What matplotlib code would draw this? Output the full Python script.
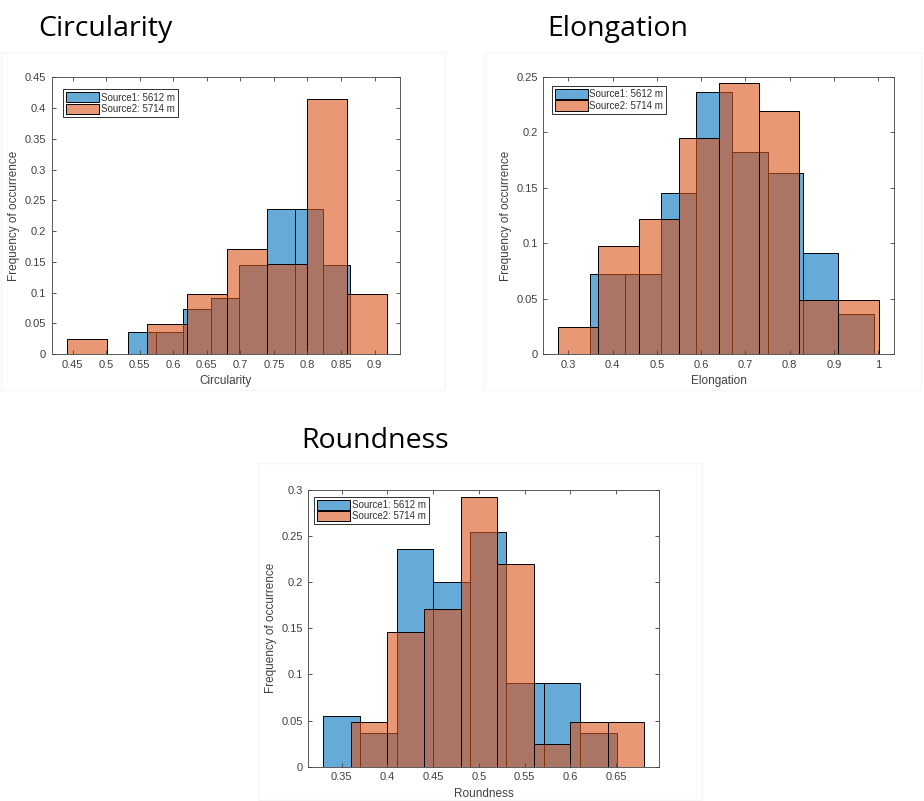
import numpy as np
import matplotlib
matplotlib.use('Agg')
import matplotlib.pyplot as plt
from matplotlib.colors import to_rgba
from matplotlib.ticker import FuncFormatter
from matplotlib.patches import Rectangle

BLUE = '#0072BD'
ORANGE = '#D95319'
LABELS = ['Source1: 5612 m', 'Source2: 5714 m']

# Circularity
circ_edges_1 = [0.532, 0.5735, 0.615, 0.6565, 0.698, 0.7395, 0.781, 0.8225, 0.864]
circ_freq_1 = [0.0364, 0.0364, 0.0727, 0.0909, 0.1455, 0.2364, 0.2364, 0.1455]
circ_edges_2 = [0.441, 0.501, 0.561, 0.620, 0.680, 0.740, 0.800, 0.859, 0.919]
circ_freq_2 = [0.0244, 0.0, 0.0488, 0.0976, 0.1707, 0.1463, 0.4146, 0.0976]

# Elongation
elon_edges_1 = [0.349, 0.429, 0.509, 0.589, 0.670, 0.750, 0.830, 0.910, 0.990]
elon_freq_1 = [0.0727, 0.0727, 0.1455, 0.2364, 0.1818, 0.1636, 0.0909, 0.0364]
elon_edges_2 = [0.277, 0.368, 0.459, 0.550, 0.641, 0.731, 0.820, 0.910, 1.001]
elon_freq_2 = [0.0244, 0.0976, 0.1220, 0.1951, 0.2439, 0.2195, 0.0488, 0.0488]

# Roundness
round_edges_1 = [0.330, 0.370, 0.410, 0.450, 0.490, 0.530, 0.571, 0.611, 0.651]
round_freq_1 = [0.0545, 0.0364, 0.2364, 0.2000, 0.2545, 0.0909, 0.0909, 0.0364]
round_edges_2 = [0.360, 0.400, 0.440, 0.480, 0.520, 0.560, 0.600, 0.641, 0.681]
round_freq_2 = [0.0488, 0.1463, 0.1707, 0.2927, 0.2195, 0.0244, 0.0488, 0.0488]

plt.rcParams['font.family'] = ['Liberation Sans', 'DejaVu Sans']

W, H = 924, 801
fig = plt.figure(figsize=(W / 100, H / 100), dpi=100)


def px_axes(left, top, right, bottom):
    return fig.add_axes([left / W, 1 - bottom / H, (right - left) / W, (bottom - top) / H])


def frame(left, top, right, bottom):
    fig.add_artist(Rectangle((left / W, 1 - bottom / H), (right - left) / W, (bottom - top) / H,
                             transform=fig.transFigure, fill=False,
                             edgecolor='#f6f6f6', linewidth=1.0))


def hist_panel(ax, e1, f1, e2, f2, xlim, ylim, xticks, yticks, xlabel, leg_off):
    e1 = np.array(e1)
    e2 = np.array(e2)
    ax.bar(e1[:-1], f1, width=np.diff(e1), align='edge',
           facecolor=to_rgba(BLUE, 0.6), edgecolor='black', linewidth=0.7,
           label=LABELS[0])
    ax.bar(e2[:-1], f2, width=np.diff(e2), align='edge',
           facecolor=to_rgba(ORANGE, 0.6), edgecolor='black', linewidth=0.7,
           label=LABELS[1])
    ax.set_xlim(*xlim)
    ax.set_ylim(*ylim)
    ax.set_xticks(xticks)
    ax.set_yticks(yticks)
    fmt = FuncFormatter(lambda v, p: f'{v:g}')
    ax.xaxis.set_major_formatter(fmt)
    ax.yaxis.set_major_formatter(fmt)
    ax.tick_params(direction='in', top=True, right=True, length=3, width=0.6,
                   labelsize=8, colors='#404040', pad=4)
    for s in ax.spines.values():
        s.set_color('#404040')
        s.set_linewidth(0.6)
    ax.set_xlabel(xlabel, fontsize=8.5, color='#404040', labelpad=4)
    ax.set_ylabel('Frequency of occurrence', fontsize=8.5, color='#404040', labelpad=3)
    pos = ax.get_position()
    ax_w = pos.width * W
    ax_h = pos.height * H
    leg = ax.legend(loc='upper left',
                    bbox_to_anchor=(leg_off[0] / ax_w, 1 - leg_off[1] / ax_h),
                    borderaxespad=0, fontsize=7, handlelength=3.4,
                    handleheight=1.25, handletextpad=0.15, labelspacing=0.1,
                    borderpad=0.3, fancybox=False, framealpha=1,
                    edgecolor='#303030')
    leg.get_frame().set_linewidth(0.7)
    for t in leg.get_texts():
        t.set_color('#303030')


# faint panel frames
frame(1, 52, 445, 390)
frame(484, 52, 921, 390)
frame(258, 463, 702, 800)

ax1 = px_axes(51.7, 77.3, 400, 354)
hist_panel(ax1, circ_edges_1, circ_freq_1, circ_edges_2, circ_freq_2,
           (0.4187, 0.938), (0, 0.45), np.arange(0.45, 0.901, 0.05),
           np.arange(0, 0.451, 0.05), 'Circularity', (11.6, 12))

ax2 = px_axes(543.3, 76.7, 894.3, 354.3)
hist_panel(ax2, elon_edges_1, elon_freq_1, elon_edges_2, elon_freq_2,
           (0.2436, 1.036), (0, 0.25), np.arange(0.3, 1.001, 0.1),
           np.arange(0, 0.251, 0.05), 'Elongation', (8.4, 9.3))

ax3 = px_axes(308.3, 490, 659, 766.7)
hist_panel(ax3, round_edges_1, round_freq_1, round_edges_2, round_freq_2,
           (0.3135, 0.697), (0, 0.3), np.arange(0.35, 0.651, 0.05),
           np.arange(0, 0.301, 0.05), 'Roundness', (6, 6.7))

title_kw = dict(fontsize=20.5, family=['Open Sans', 'DejaVu Sans'], color='black',
                ha='left', va='baseline')
fig.text(38 / W, 1 - 36 / H, 'Circularity', **title_kw)
fig.text(547 / W, 1 - 36 / H, 'Elongation', **title_kw)
fig.text(301 / W, 1 - 448 / H, 'Roundness', **title_kw)

fig.savefig('out.png', dpi=100, facecolor='white')
